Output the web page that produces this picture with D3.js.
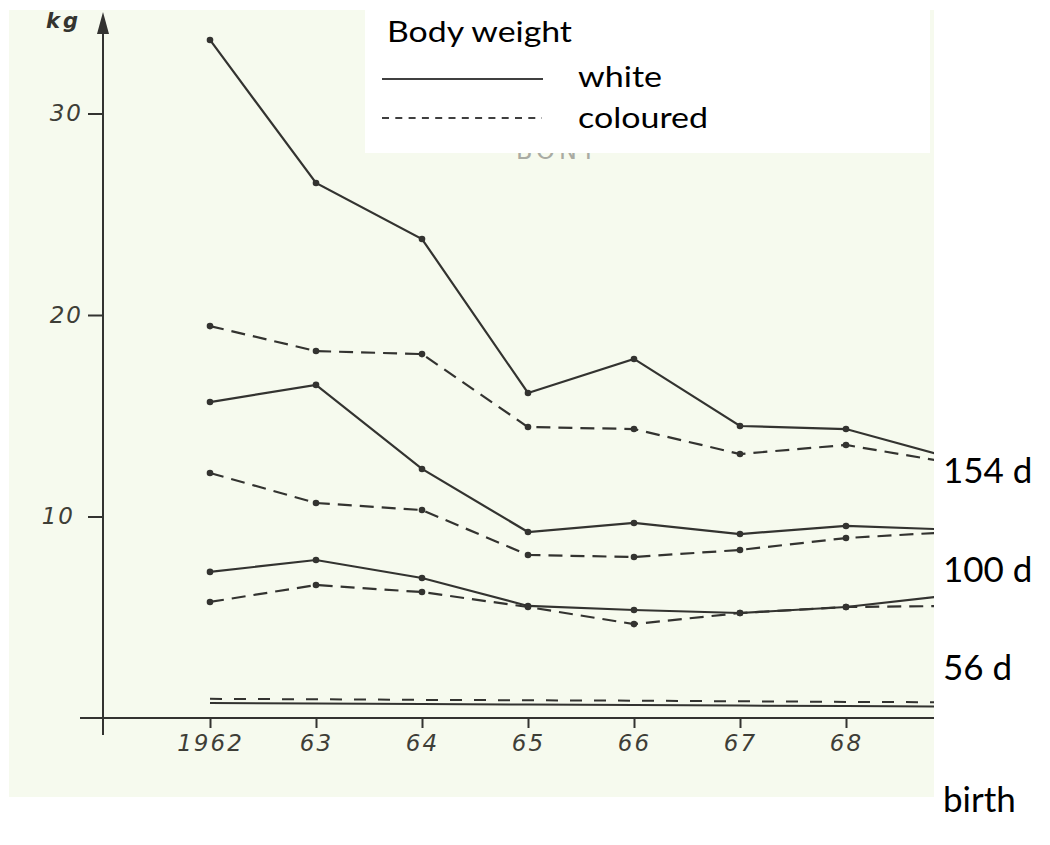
<!DOCTYPE html>
<html>
<head>
<meta charset="utf-8">
<script src="https://cdn.jsdelivr.net/npm/d3@7/dist/d3.min.js"></script>
<style>
  html, body { margin: 0; padding: 0; background: #ffffff; }
  svg { display: block; }
</style>
</head>
<body>
<svg id="chart" width="1050" height="845"></svg>
<script>
// Body weight (kg) of white and coloured animals, by year, at four ages
const years = [1962, 1963, 1964, 1965, 1966, 1967, 1968, 1969];
const tickYears = [1962, 1963, 1964, 1965, 1966, 1967, 1968];
const yearLabels = ["1962", "63", "64", "65", "66", "67", "68"];
const kgTicks = [10, 20, 30];

const white154 = [33.65, 26.55, 23.77, 16.13, 17.82, 14.49, 14.34, 12.9];
const coloured154 = [19.45, 18.21, 18.06, 14.44, 14.34, 13.10, 13.55, 12.66];
const white100 = [15.68, 16.53, 12.36, 9.23, 9.68, 9.13, 9.53, 9.35];
const coloured100 = [12.16, 10.67, 10.32, 8.09, 7.99, 8.34, 8.93, 9.23];
const white56 = [7.25, 7.84, 6.95, 5.56, 5.36, 5.21, 5.51, 6.1];
const coloured56 = [5.76, 6.60, 6.25, 5.51, 4.66, 5.21, 5.51, 5.56];
const whiteBirth = [0.74, 0.72, 0.70, 0.67, 0.65, 0.62, 0.59, 0.56];
const colouredBirth = [0.95, 0.93, 0.90, 0.88, 0.86, 0.83, 0.80, 0.78];

const ageLabels = ["154 d", "100 d", "56 d", "birth"];
const legendTitle = "Body weight";
const legendItems = ["white", "coloured"];

const series = [
  { values: white154, kind: "white", dots: true },
  { values: coloured154, kind: "coloured", dots: true },
  { values: white100, kind: "white", dots: true },
  { values: coloured100, kind: "coloured", dots: true },
  { values: white56, kind: "white", dots: true },
  { values: coloured56, kind: "coloured", dots: true },
  { values: whiteBirth, kind: "white", dots: false },
  { values: colouredBirth, kind: "coloured", dots: false }
];

const ink = "#333330";
const paper = "#f6faee";

const svg = d3.select("#chart");

// paper area of the plate
const plate = { x: 9, y: 10, w: 925, h: 787 };
svg.append("rect")
  .attr("x", plate.x).attr("y", plate.y)
  .attr("width", plate.w).attr("height", plate.h)
  .attr("fill", paper);

svg.append("clipPath").attr("id", "plate-clip")
  .append("rect")
  .attr("x", plate.x).attr("y", plate.y)
  .attr("width", plate.w).attr("height", plate.h);

const x = d3.scaleLinear().domain([1962, 1968]).range([210, 846]);
const y = d3.scaleLinear().domain([0, 30]).range([718, 113.5]);

const axisX = 103;
const g = svg.append("g").attr("clip-path", "url(#plate-clip)");

// vertical axis with arrow
g.append("line")
  .attr("x1", axisX).attr("x2", axisX)
  .attr("y1", 28).attr("y2", 735)
  .attr("stroke", ink).attr("stroke-width", 2);
g.append("path")
  .attr("d", `M${axisX},12 L${axisX - 6},34 L${axisX + 6},34 Z`)
  .attr("fill", ink);

// horizontal axis
g.append("line")
  .attr("x1", 80).attr("x2", plate.x + plate.w)
  .attr("y1", y(0)).attr("y2", y(0))
  .attr("stroke", ink).attr("stroke-width", 2);

const tickFont = "'DejaVu Sans', sans-serif";

const yAxis = g.append("g")
  .attr("transform", `translate(${axisX},0)`)
  .call(d3.axisLeft(y).tickValues(kgTicks).tickSize(15).tickPadding(5)
    .tickFormat(d3.format("d")));
yAxis.select(".domain").remove();
yAxis.selectAll(".tick line").attr("stroke", ink).attr("stroke-width", 2);
yAxis.selectAll(".tick text")
  .attr("fill", "#3e3e37")
  .attr("font-family", tickFont)
  .attr("font-style", "italic")
  .attr("font-size", 23)
  .attr("letter-spacing", 2)
  .attr("dx", d => (d === 10 ? -8 : 0));

const xAxis = g.append("g")
  .attr("transform", `translate(0,${y(0)})`)
  .call(d3.axisBottom(x).tickValues(tickYears).tickSize(10).tickPadding(7)
    .tickFormat((d, i) => yearLabels[i]));
xAxis.select(".domain").remove();
xAxis.selectAll(".tick line").attr("stroke", ink).attr("stroke-width", 2);
xAxis.selectAll(".tick text")
  .attr("fill", "#3e3e37")
  .attr("font-family", tickFont)
  .attr("font-style", "italic")
  .attr("font-size", 23)
  .attr("letter-spacing", 2);

// unit label
g.append("text")
  .attr("x", 46).attr("y", 28)
  .attr("fill", "#34342f")
  .attr("font-family", tickFont)
  .attr("font-style", "italic")
  .attr("font-weight", "bold")
  .attr("font-size", 21)
  .attr("letter-spacing", 3)
  .text("kg");

// faint plate heading, mostly hidden behind the legend
g.append("text")
  .attr("x", 516).attr("y", 159)
  .attr("fill", "#a9aba3")
  .attr("font-family", tickFont)
  .attr("font-size", 24)
  .attr("letter-spacing", 4)
  .text("BONT");

// series lines and points
const line = d3.line().x((d, i) => x(years[i])).y(d => y(d));

series.forEach(s => {
  g.append("path")
    .datum(s.values)
    .attr("d", line)
    .attr("fill", "none")
    .attr("stroke", ink)
    .attr("stroke-width", s.dots ? 2.2 : 2)
    .attr("stroke-dasharray", s.kind === "coloured" ? (s.dots ? "14,8" : "12,12") : null);
  if (s.dots) {
    g.selectAll(null)
      .data(s.values.slice(0, tickYears.length))
      .enter().append("circle")
      .attr("cx", (d, i) => x(years[i]))
      .attr("cy", d => y(d))
      .attr("r", 3.3)
      .attr("fill", ink);
  }
});

// legend panel
const labelFont = "Lato, 'Open Sans', sans-serif";
const legend = svg.append("g");
legend.append("rect")
  .attr("x", 365).attr("y", 10)
  .attr("width", 565).attr("height", 143)
  .attr("fill", "#ffffff");
legend.append("text")
  .attr("x", 387).attr("y", 42)
  .attr("font-family", labelFont).attr("font-size", 28)
  .attr("textLength", 185).attr("lengthAdjust", "spacingAndGlyphs")
  .attr("fill", "#000").text(legendTitle);
legend.append("line")
  .attr("x1", 382).attr("x2", 543).attr("y1", 79).attr("y2", 79)
  .attr("stroke", "#000").attr("stroke-width", 1.6);
legend.append("line")
  .attr("x1", 382).attr("x2", 542).attr("y1", 118).attr("y2", 118)
  .attr("stroke", "#000").attr("stroke-width", 1.6)
  .attr("stroke-dasharray", "7,6.3");
legend.selectAll(null)
  .data(legendItems)
  .enter().append("text")
  .attr("x", 578)
  .attr("y", (d, i) => [87, 128][i])
  .attr("font-family", labelFont).attr("font-size", 28)
  .attr("textLength", (d, i) => [84, 130][i])
  .attr("lengthAdjust", "spacingAndGlyphs")
  .attr("fill", "#000")
  .text(d => d);

// age labels at the right
svg.selectAll(null)
  .data(ageLabels)
  .enter().append("text")
  .attr("x", 943)
  .attr("y", (d, i) => [483, 582, 680, 812][i])
  .attr("font-family", labelFont).attr("font-size", 35)
  .attr("fill", "#000")
  .text(d => d);
</script>
</body>
</html>
